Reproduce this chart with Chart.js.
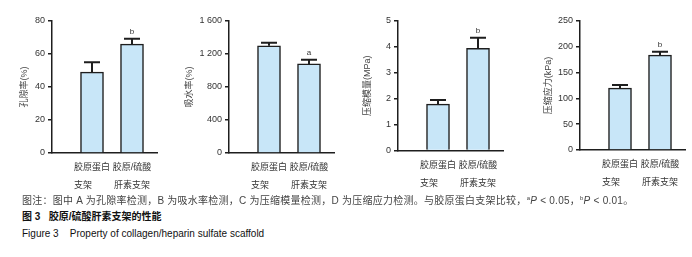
<!DOCTYPE html>
<html>
<head>
<meta charset="utf-8">
<script src="https://cdn.jsdelivr.net/npm/chart.js@4.4.1/dist/chart.umd.min.js"></script>
<style>
    body { margin: 0; background: #fff; width: 692px; height: 257px; overflow: hidden; position: relative;
           font-family: "Liberation Sans", "Noto Sans CJK SC", sans-serif; }
    .panel { position: absolute; top: 0; }
    .cap { position: absolute; left: 22px; font-size: 10px; line-height: 12px; white-space: nowrap; }
    .cap sup { font-size: 6px; vertical-align: 4px; line-height: 0; }
</style>
</head>
<body>
<canvas class="panel" id="c0" width="162" height="195" style="left:0px"></canvas>
<canvas class="panel" id="c1" width="162" height="195" style="left:177px"></canvas>
<canvas class="panel" id="c2" width="162" height="195" style="left:346px"></canvas>
<canvas class="panel" id="c3" width="162" height="195" style="left:528px"></canvas>

<div class="cap" style="top:195px;color:#444;letter-spacing:0.25px">图注：图中 A 为孔隙率检测，B 为吸水率检测，C 为压缩模量检测，D 为压缩应力检测。与胶原蛋白支架比较，<sup>a</sup><i>P</i> &lt; 0.05，<sup>b</sup><i>P</i> &lt; 0.01。</div>
<div class="cap" style="top:211px;color:#111;font-weight:bold">图 3&nbsp;&nbsp;&nbsp;胶原/硫酸肝素支架的性能</div>
<div class="cap" style="top:228px;color:#111">Figure 3&nbsp;&nbsp;&nbsp;&nbsp;Property of collagen/heparin sulfate scaffold</div>

<script>
// 두 그룹 (x축 라벨, 두 줄)
const categories = [["胶原蛋白", "支架　　"], ["胶原/硫酸", "肝素支架"]];

// A 孔隙率
const porosity = [49, 66];
const porositySD = [6, 3.3];
const porositySig = ["", "b"];

// B 吸水率
const waterAbsorption = [1300, 1080];
const waterAbsorptionSD = [36, 50];
const waterAbsorptionSig = ["", "a"];

// C 压缩模量
const modulus = [1.79, 3.94];
const modulusSD = [0.16, 0.41];
const modulusSig = ["", "b"];

// D 压缩应力
const stress = [120, 184];
const stressSD = [6, 6.5];
const stressSig = ["", "b"];

const yTitles = ["孔隙率(%)", "吸水率(%)", "压缩模量(MPa)", "压缩应力(kPa)"];
const yMax = [80, 1600, 5, 250];
const yStep = [20, 400, 1, 50];

const FONT = '"Liberation Sans", "Noto Sans CJK SC", sans-serif';
const INK = "#1e1e1e";

// 에러바 + 유의성 표시
const errorBars = {
    id: "errorBars",
    afterDatasetsDraw(chart, args, opts) {
        const { ctx } = chart;
        const y = chart.scales.y;
        const ds = chart.data.datasets[0];
        const meta = chart.getDatasetMeta(0);
        ctx.save();
        ctx.strokeStyle = INK;
        ctx.lineWidth = 2;
        ctx.fillStyle = "#333";
        ctx.font = "8px " + FONT;
        ctx.textAlign = "center";
        ctx.textBaseline = "middle";
        meta.data.forEach((bar, i) => {
            const top = y.getPixelForValue(ds.data[i].y + opts.sd[i]);
            ctx.beginPath();
            ctx.moveTo(bar.x, bar.y);
            ctx.lineTo(bar.x, top);
            ctx.moveTo(bar.x - 8, top);
            ctx.lineTo(bar.x + 8, top);
            ctx.stroke();
            if (opts.sig[i]) {
                ctx.fillText(opts.sig[i], bar.x, top - 7);
            }
        });
        ctx.restore();
    }
};

function makePanel(id, values, sd, sig, k, bottom, titlePad) {
    const ctx = document.getElementById(id).getContext("2d");
    return new Chart(ctx, {
        type: "bar",
        data: {
            datasets: [{
                data: values.map((v, i) => ({ x: i + 1, y: v })),
                backgroundColor: "#c8e6f8",
                borderColor: INK,
                borderWidth: 1.5,
                barThickness: 23,
            }],
        },
        plugins: [errorBars],
        options: {
            responsive: false,
            animation: false,
            layout: { padding: { top: 21, left: 0, right: 5, bottom: 0 } },
            plugins: {
                legend: { display: false },
                tooltip: { enabled: false },
                errorBars: { sd: sd, sig: sig },
            },
            scales: {
                x: {
                    type: "linear",
                    offset: false, // linear + offset 이면 범위가 두 배가 됨
                    min: 0,
                    max: 2.625,
                    afterBuildTicks: (s) => { s.ticks = categories.map((c, i) => ({ value: i + 1 })); },
                    afterFit: (s) => { s.height = 195 - bottom; },
                    ticks: {
                        autoSkip: false,
                        maxRotation: 0,
                        minRotation: 0,
                        padding: 6,
                        color: "#333",
                        font: { family: FONT, size: 9, lineHeight: 2 },
                        callback: (v) => categories[v - 1],
                    },
                    grid: { display: false, drawTicks: false },
                    border: { display: true, color: INK, width: 1.5 },
                },
                y: {
                    min: 0,
                    max: yMax[k],
                    afterFit: (s) => { s.width = 52; },
                    ticks: {
                        stepSize: yStep[k],
                        padding: 3,
                        color: "#333",
                        font: { family: FONT, size: 9 },
                        callback: (v) => v >= 1000 ? String(v).replace(/(\d)(\d{3})$/, "$1 $2") : v,
                    },
                    grid: { display: true, drawOnChartArea: false, drawTicks: true, tickLength: 4, color: INK, lineWidth: 1.5 },
                    border: { display: true, color: INK, width: 1.5 },
                    title: {
                        display: true,
                        text: yTitles[k],
                        color: "#444",
                        font: { family: FONT, size: 9 },
                        padding: { top: titlePad, bottom: 0 },
                    },
                },
            },
        }
    });
}

makePanel("c0", porosity, porositySD, porositySig, 0, 153, 19.6);
makePanel("c1", waterAbsorption, waterAbsorptionSD, waterAbsorptionSig, 1, 153, 7.6);
makePanel("c2", modulus, modulusSD, modulusSig, 2, 150.5, 16.6);
makePanel("c3", stress, stressSD, stressSig, 3, 150, 15.6);
</script>
</body>
</html>
